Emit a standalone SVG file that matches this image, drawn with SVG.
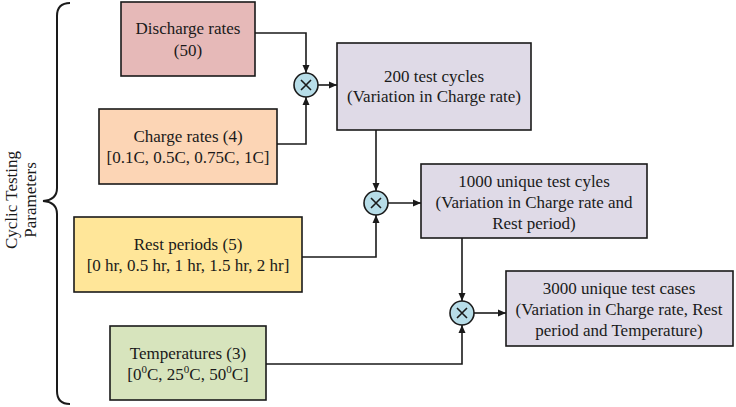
<svg xmlns="http://www.w3.org/2000/svg" width="736" height="407" viewBox="0 0 736 407">
<style>
.box{stroke:#1a1a1a;stroke-width:1.6}
.t{font-family:"Liberation Serif",serif;font-size:17px;fill:#1a1a1a;text-anchor:middle}
.c{fill:none;stroke:#1a1a1a;stroke-width:1.6}
.m{fill:#b7dde8;stroke:#1a1a1a;stroke-width:1.6}
.x{stroke:#1a1a1a;stroke-width:1.6}
.sup{font-size:11px}
</style>
<defs>
<marker id="ah" markerUnits="userSpaceOnUse" markerWidth="8" markerHeight="8" refX="8" refY="4" orient="auto">
<path d="M0,0.5 L8,4 L0,7.5 z" fill="#1a1a1a"/>
</marker>
</defs>
<g id="connectors">
<path class="c" d="M255,33 H306 V73" marker-end="url(#ah)"/>
<path class="c" d="M277,144 H306 V97" marker-end="url(#ah)"/>
<path class="c" d="M318,85 H337" marker-end="url(#ah)"/>
<path class="c" d="M376,130 V191" marker-end="url(#ah)"/>
<path class="c" d="M302,257 H376 V215" marker-end="url(#ah)"/>
<path class="c" d="M388,203 H421" marker-end="url(#ah)"/>
<path class="c" d="M462,238 V301" marker-end="url(#ah)"/>
<path class="c" d="M266,364 H462 V325" marker-end="url(#ah)"/>
<path class="c" d="M474,313 H506" marker-end="url(#ah)"/>
</g>
<g id="brace">
<path d="M70,3 Q57,3 57,16 L57,188 Q57,200 43,201 Q57,202 57,214 L57,391 Q57,404 70,404" fill="none" stroke="#1a1a1a" stroke-width="2"/>
<text class="t" transform="translate(17,200) rotate(-90)">Cyclic Testing</text>
<text class="t" transform="translate(36,200) rotate(-90)">Parameters</text>
</g>
<g id="discharge">
<rect class="box" x="121" y="2" width="134" height="74" fill="#e6b9b8"/>
<text class="t" x="188" y="34">Discharge rates</text>
<text class="t" x="188" y="56">(50)</text>
</g>
<g id="charge">
<rect class="box" x="99" y="109" width="178" height="75" fill="#fcd5b5"/>
<text class="t" x="188" y="142">Charge rates (4)</text>
<text class="t" x="188" y="163">[0.1C, 0.5C, 0.75C, 1C]</text>
</g>
<g id="rest">
<rect class="box" x="74" y="217" width="228" height="75" fill="#ffe699"/>
<text class="t" x="188" y="250">Rest periods (5)</text>
<text class="t" x="188" y="271">[0 hr, 0.5 hr, 1 hr, 1.5 hr, 2 hr]</text>
</g>
<g id="temp">
<rect class="box" x="110" y="326" width="156" height="74" fill="#d7e4bd"/>
<text class="t" x="188" y="359">Temperatures (3)</text>
<text class="t" x="188" y="380">[0<tspan class="sup" dy="-7">0</tspan><tspan dy="7">C, 25</tspan><tspan class="sup" dy="-7">0</tspan><tspan dy="7">C, 50</tspan><tspan class="sup" dy="-7">0</tspan><tspan dy="7">C]</tspan></text>
</g>
<g id="mult1">
<circle class="m" cx="306" cy="85" r="12"/>
<path class="x" d="M301,80 L311,90 M311,80 L301,90"/>
</g>
<g id="cycles200">
<rect class="box" x="337" y="43" width="194" height="87" fill="#dfdae7"/>
<text class="t" x="434" y="82">200 test cycles</text>
<text class="t" x="434" y="102">(Variation in Charge rate)</text>
</g>
<g id="mult2">
<circle class="m" cx="376" cy="203" r="12"/>
<path class="x" d="M371,198 L381,208 M381,198 L371,208"/>
</g>
<g id="cycles1000">
<rect class="box" x="421" y="164" width="226" height="74" fill="#dfdae7"/>
<text class="t" x="534" y="187">1000 unique test cyles</text>
<text class="t" x="534" y="208">(Variation in Charge rate and</text>
<text class="t" x="534" y="229">Rest period)</text>
</g>
<g id="mult3">
<circle class="m" cx="462" cy="313" r="12"/>
<path class="x" d="M457,308 L467,318 M467,308 L457,318"/>
</g>
<g id="cases3000">
<rect class="box" x="506" y="271" width="227" height="75" fill="#dfdae7"/>
<text class="t" x="619" y="294">3000 unique test cases</text>
<text class="t" x="619" y="315">(Variation in Charge rate, Rest</text>
<text class="t" x="619" y="336">period and Temperature)</text>
</g>
</svg>
